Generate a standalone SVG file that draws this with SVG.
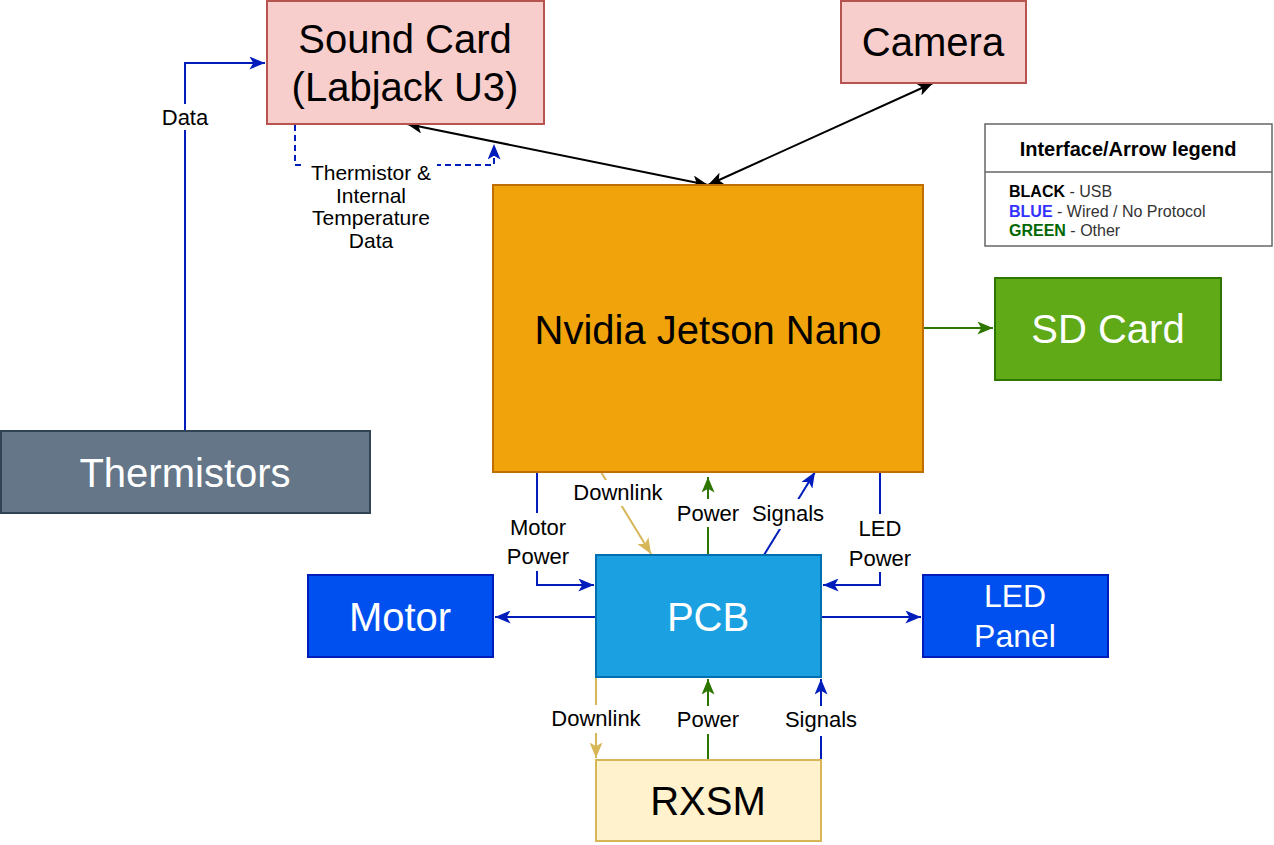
<svg xmlns="http://www.w3.org/2000/svg" width="1274" height="845" viewBox="0 0 1274 845">
<style>
text{font-family:"Liberation Sans",Arial,sans-serif;text-anchor:middle}
.big{font-size:40px}
.lbl{font-size:22px;fill:#000}
.sm{font-size:21px;fill:#000}
.bg{fill:#ffffff;stroke:none}
.c{fill:none;stroke-width:2}
.k{stroke:#000000}
.b{stroke:#001DBC}
.g{stroke:#2D7600}
.t{stroke:#d6b656}
.w{fill:#ffffff}
</style>
<defs>
<marker id="mk" viewBox="0 0 12 10" refX="12" refY="5" markerWidth="16" markerHeight="13" markerUnits="userSpaceOnUse" orient="auto-start-reverse"><path d="M0,0 L12,5 L0,10 L3,5 z" fill="#000000"/></marker>
<marker id="mb" viewBox="0 0 12 10" refX="12" refY="5" markerWidth="16" markerHeight="13" markerUnits="userSpaceOnUse" orient="auto-start-reverse"><path d="M0,0 L12,5 L0,10 L3,5 z" fill="#001DBC"/></marker>
<marker id="mg" viewBox="0 0 12 10" refX="12" refY="5" markerWidth="16" markerHeight="13" markerUnits="userSpaceOnUse" orient="auto-start-reverse"><path d="M0,0 L12,5 L0,10 L3,5 z" fill="#2D7600"/></marker>
<marker id="mt" viewBox="0 0 12 10" refX="12" refY="5" markerWidth="16" markerHeight="13" markerUnits="userSpaceOnUse" orient="auto-start-reverse"><path d="M0,0 L12,5 L0,10 L3,5 z" fill="#d6b656"/></marker>
</defs>

<g id="connectors">
<path class="c b" d="M185,431 V63 H265" marker-end="url(#mb)"/>
<path class="c b" d="M295,125 V165 H494 V144" stroke-dasharray="6,4" marker-end="url(#mb)"/>
<path class="c k" d="M407,124 L708,185" marker-start="url(#mk)" marker-end="url(#mk)"/>
<path class="c k" d="M933,83 L708,185" marker-start="url(#mk)" marker-end="url(#mk)"/>
<path class="c g" d="M923,328 H993" marker-end="url(#mg)"/>
<path class="c b" d="M537,472 V585 H594" marker-end="url(#mb)"/>
<path class="c t" d="M601,472 L651,554" marker-end="url(#mt)"/>
<path class="c g" d="M708,555 V477" marker-end="url(#mg)"/>
<path class="c b" d="M764,555 L815,472" marker-end="url(#mb)"/>
<path class="c b" d="M880,472 V585 H823" marker-end="url(#mb)"/>
<path class="c b" d="M596,617 H495" marker-end="url(#mb)"/>
<path class="c b" d="M821,617 H921" marker-end="url(#mb)"/>
<path class="c t" d="M596,677 V758" marker-end="url(#mt)"/>
<path class="c g" d="M708,760 V679" marker-end="url(#mg)"/>
<path class="c b" d="M821,760 V679" marker-end="url(#mb)"/>

<rect class="bg" x="160" y="104" width="51" height="26"/>
<text class="lbl" x="185" y="125">Data</text>
<rect class="bg" x="305" y="160" width="132" height="92"/>
<text class="sm" x="371" y="180">Thermistor &amp;</text>
<text class="sm" x="371" y="203">Internal</text>
<text class="sm" x="371" y="225">Temperature</text>
<text class="sm" x="371" y="248">Data</text>
<rect class="bg" x="572" y="480" width="92" height="26"/>
<text class="lbl" x="618" y="500">Downlink</text>
<rect class="bg" x="506" y="513" width="65" height="58"/>
<text class="lbl" x="538" y="535">Motor</text>
<text class="lbl" x="538" y="564">Power</text>
<rect class="bg" x="675" y="499" width="66" height="28"/>
<text class="lbl" x="708" y="521">Power</text>
<rect class="bg" x="751" y="499" width="75" height="30"/>
<text class="lbl" x="788" y="521">Signals</text>
<rect class="bg" x="848" y="514" width="65" height="58"/>
<text class="lbl" x="880" y="536">LED</text>
<text class="lbl" x="880" y="566">Power</text>
<rect class="bg" x="549" y="705" width="94" height="28"/>
<text class="lbl" x="596" y="726">Downlink</text>
<rect class="bg" x="675" y="706" width="66" height="28"/>
<text class="lbl" x="708" y="727">Power</text>
<rect class="bg" x="783" y="706" width="76" height="30"/>
<text class="lbl" x="821" y="727">Signals</text>
</g>

<g id="sound-card">
<rect x="267" y="1" width="277" height="123" fill="#f8cecc" stroke="#b85450" stroke-width="2"/>
<text class="big" x="405" y="53">Sound Card</text>
<text class="big" x="405" y="101">(Labjack U3)</text>
</g>
<g id="camera">
<rect x="841" y="1" width="185" height="82" fill="#f8cecc" stroke="#b85450" stroke-width="2"/>
<text class="big" x="933" y="56">Camera</text>
</g>
<g id="jetson">
<rect x="493" y="185" width="430" height="287" fill="#f0a30a" stroke="#BD7000" stroke-width="2"/>
<text class="big" x="708" y="344">Nvidia Jetson Nano</text>
</g>
<g id="sd-card">
<rect x="995" y="278" width="226" height="102" fill="#60a917" stroke="#2D7600" stroke-width="2"/>
<text class="big w" x="1108" y="343">SD Card</text>
</g>
<g id="thermistors">
<rect x="1" y="431" width="369" height="82" fill="#647687" stroke="#314354" stroke-width="2"/>
<text class="big w" x="185" y="487">Thermistors</text>
</g>
<g id="motor">
<rect x="308" y="575" width="185" height="82" fill="#0050ef" stroke="#001DBC" stroke-width="2"/>
<text class="big w" x="400" y="631">Motor</text>
</g>
<g id="pcb">
<rect x="596" y="555" width="225" height="122" fill="#1ba1e2" stroke="#006EAF" stroke-width="2"/>
<text class="big w" x="708" y="631">PCB</text>
</g>
<g id="led-panel">
<rect x="923" y="575" width="185" height="82" fill="#0050ef" stroke="#001DBC" stroke-width="2"/>
<text class="w" x="1015" y="607" style="font-size:32px">LED</text>
<text class="w" x="1015" y="647" style="font-size:32px">Panel</text>
</g>
<g id="rxsm">
<rect x="596" y="760" width="225" height="81" fill="#fff2cc" stroke="#d6b656" stroke-width="2"/>
<text class="big" x="708" y="815">RXSM</text>
</g>
<g id="legend">
<rect x="985" y="124" width="287" height="122" fill="#ffffff" stroke="#666666" stroke-width="1.5"/>
<line x1="985" y1="172" x2="1272" y2="172" stroke="#666666" stroke-width="1.5"/>
<text x="1128" y="156" style="font-size:20px;font-weight:bold" fill="#000">Interface/Arrow legend</text>
<text x="1009" y="197" style="font-size:16px;text-anchor:start" fill="#333333"><tspan font-weight="bold" fill="#000000">BLACK</tspan> - USB</text>
<text x="1009" y="217" style="font-size:16px;text-anchor:start" fill="#333333"><tspan font-weight="bold" fill="#3333FF">BLUE</tspan> - Wired / No Protocol</text>
<text x="1009" y="236" style="font-size:16px;text-anchor:start" fill="#333333"><tspan font-weight="bold" fill="#006600">GREEN</tspan> - Other</text>
</g>
</svg>
